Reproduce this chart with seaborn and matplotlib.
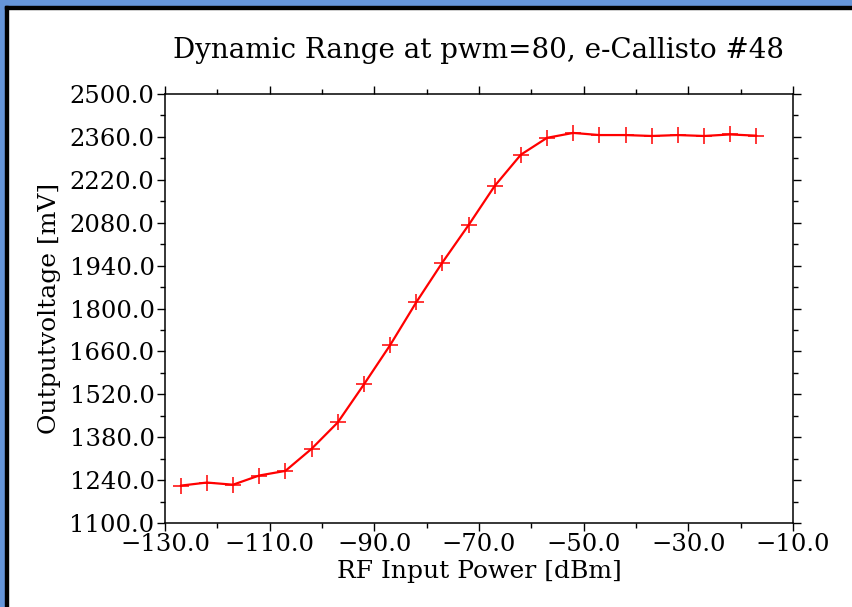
import seaborn as sns
import pandas as pd
import numpy as np
import matplotlib.pyplot as plt
from matplotlib.patches import Rectangle
from matplotlib.ticker import FixedLocator, FuncFormatter

rf_power = [-127, -122, -117, -112, -107, -102, -97, -92, -87, -82, -77, -72,
            -67, -62, -57, -52, -47, -42, -37, -32, -27, -22, -17]
output_mv = [1222, 1232, 1225, 1255, 1270, 1342, 1428, 1552, 1680, 1820, 1950, 2072,
             2200, 2302, 2357, 2373, 2366, 2366, 2363, 2366, 2363, 2368, 2364]

x_major = [-130, -110, -90, -70, -50, -30, -10]
x_minor = [-120, -100, -80, -60, -40, -20]
y_major = [1100, 1240, 1380, 1520, 1660, 1800, 1940, 2080, 2220, 2360, 2500]
y_minor = [1170, 1310, 1450, 1590, 1730, 1870, 2010, 2150, 2290, 2430]

title = "Dynamic Range at pwm=80, e-Callisto #48"
xlabel = "RF Input Power [dBm]"
ylabel = "Outputvoltage [mV]"

W, H = 852, 607
blue = "#6595d9"

sns.set_style("ticks")
plt.rcParams['font.family'] = ['DejaVu Serif', 'DejaVu Sans']
plt.rcParams['text.color'] = 'black'
plt.rcParams['axes.labelcolor'] = 'black'

fig = plt.figure(figsize=(W / 100, H / 100), dpi=100)
ax_w, ax_h = 793 - 165, 523 - 94
ax = fig.add_axes([165 / W, 1 - 523 / H, ax_w / W, ax_h / H])

df = pd.DataFrame({"power": rf_power, "mv": output_mv})
sns.lineplot(data=df, x="power", y="mv", ax=ax, color="red", lw=1.6,
             marker="+", markersize=12, markeredgewidth=1.1,
             markeredgecolor="red")

ax.set_xlim(-130, -10)
ax.set_ylim(1100, 2500)
ax.xaxis.set_major_locator(FixedLocator(x_major))
ax.xaxis.set_minor_locator(FixedLocator(x_minor))
ax.yaxis.set_major_locator(FixedLocator(y_major))
ax.yaxis.set_minor_locator(FixedLocator(y_minor))
fmt = FuncFormatter(lambda v, p: f"{v:.1f}".replace("-", "\u2212"))
ax.xaxis.set_major_formatter(fmt)
ax.yaxis.set_major_formatter(fmt)

for s in ax.spines.values():
    s.set_visible(True)
    s.set_color("black")
    s.set_linewidth(1.1)
ax.tick_params(which="both", direction="out", top=True, right=True,
               color="black", width=1.0, labelsize=17.5, labelcolor="black")
ax.tick_params(which="major", length=5.5, pad=2)
ax.tick_params(which="minor", length=3.5)

ax.set_xlabel(xlabel, fontsize=18)
ax.xaxis.set_label_coords(0.5, -(560 - 523) / ax_h)
ax.set_ylabel(ylabel, fontsize=18)
ax.yaxis.set_label_coords((61 - 165) / ax_w, 0.5)
fig.text(479 / W, 1 - 50 / H, title, ha="center", va="center", fontsize=20)

# window frame like in the screenshot
fig.patches.append(Rectangle((0, 1 - 6 / H), 1, 6 / H, transform=fig.transFigure,
                             color=blue, zorder=10))
fig.patches.append(Rectangle((0, 0), 5 / W, 1, transform=fig.transFigure,
                             color=blue, zorder=10))
fig.patches.append(Rectangle((5 / W, 1 - 9 / H), 1, 3 / H, transform=fig.transFigure,
                             color="black", zorder=10))
fig.patches.append(Rectangle((5 / W, 0), 3 / W, 1 - 6 / H, transform=fig.transFigure,
                             color="black", zorder=10))

fig.savefig("out.png", dpi=100)
